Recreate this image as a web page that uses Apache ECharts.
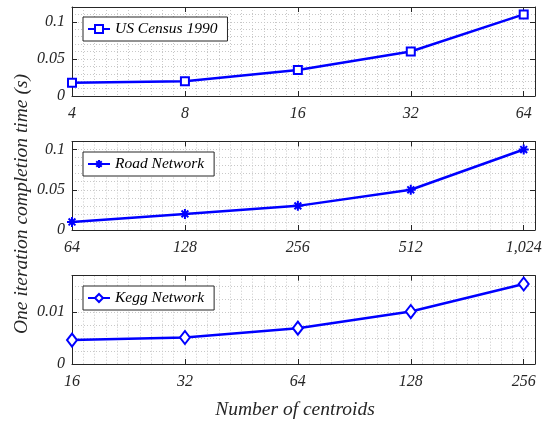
<!DOCTYPE html>
<html>
<head>
<meta charset="utf-8">
<script src="https://cdn.jsdelivr.net/npm/echarts@6/dist/echarts.min.js"></script>
<style>html,body{margin:0;padding:0;background:#fff}#c{width:549px;height:424px}</style>
</head>
<body>
<div id="c"></div>
<script>
const categories1 = ['4', '8', '16', '32', '64'];
const values1 = [0.018, 0.020, 0.035, 0.060, 0.110];
const categories2 = ['64', '128', '256', '512', '1,024'];
const values2 = [0.010, 0.020, 0.030, 0.050, 0.100];
const categories3 = ['16', '32', '64', '128', '256'];
const values3 = [0.0046, 0.0051, 0.0069, 0.0101, 0.0154];
const seriesNames = ['US Census 1990', 'Road Network', 'Kegg Network'];
const yMax = [0.12, 0.11, 0.017];
const yInterval = [0.05, 0.05, 0.01];
const yMinorSplit = [5, 5, 4];

const cats = [categories1, categories2, categories3];
const vals = [values1, values2, values3];
const BLUE = '#0000ff';
const AX = '#262626';
const GRIDC = '#c8c8c8';
const FONT = '"Liberation Serif", "DejaVu Serif", serif';
const grids = [
  {left: 72, right: 14, top: 7, height: 89},
  {left: 72, right: 14, top: 141.5, height: 88.5},
  {left: 72, right: 14, top: 275.7, height: 88.3}
];
const symbols = ['rect', 'path://M5,0L5,10M0,5L10,5M1.6,1.6L8.4,8.4M1.6,8.4L8.4,1.6', 'diamond'];
const symbolSizes = [[8, 8], [10, 10], [10, 13]];
const legendPos = [
  {left: 83, top: 17},
  {left: 83, top: 152},
  {left: 83, top: 286}
];

const xAxes = [], yAxes = [], series = [], legends = [];
for (let i = 0; i < 3; i++) {
  const c = cats[i];
  xAxes.push({
    type: 'value', gridIndex: i, min: 0, max: 4.1, interval: 1, position: 'bottom',
    axisLine: {show: true, onZero: false, lineStyle: {color: AX, width: 1}},
    axisTick: {show: true, inside: true, length: 5, lineStyle: {color: AX}},
    axisLabel: {show: true, margin: 10, showMaxLabel: false, color: AX, fontFamily: FONT, fontStyle: 'italic', fontSize: 16,
      formatter: v => (Math.abs(v - Math.round(v)) < 1e-6 && c[Math.round(v)] !== undefined) ? c[Math.round(v)] : ''},
    splitLine: {show: true, lineStyle: {color: GRIDC, type: [1, 2], width: 1}},
    minorTick: {show: false, splitNumber: 10},
    minorSplitLine: {show: true, lineStyle: {color: GRIDC, type: [1, 2], width: 1}}
  });
  xAxes.push({
    type: 'value', gridIndex: i, min: 0, max: 4.1, interval: 1, position: 'top',
    axisLine: {show: true, onZero: false, lineStyle: {color: AX, width: 1}},
    axisTick: {show: true, inside: true, length: 5, lineStyle: {color: AX}},
    axisLabel: {show: false}, splitLine: {show: false}
  });
  yAxes.push({
    type: 'value', gridIndex: i, min: 0, max: yMax[i], interval: yInterval[i], position: 'left',
    axisLine: {show: true, onZero: false, lineStyle: {color: AX, width: 1}},
    axisTick: {show: true, inside: true, length: 5, lineStyle: {color: AX}},
    axisLabel: {show: true, margin: 7, showMaxLabel: false, color: AX, fontFamily: FONT, fontStyle: 'italic', fontSize: 16},
    splitLine: {show: true, lineStyle: {color: GRIDC, type: [1, 2], width: 1}},
    minorTick: {show: false, splitNumber: yMinorSplit[i]},
    minorSplitLine: {show: true, lineStyle: {color: GRIDC, type: [1, 2], width: 1}}
  });
  yAxes.push({
    type: 'value', gridIndex: i, min: 0, max: yMax[i], interval: yInterval[i], position: 'right',
    axisLine: {show: true, onZero: false, lineStyle: {color: AX, width: 1}},
    axisTick: {show: true, inside: true, length: 5, lineStyle: {color: AX}},
    axisLabel: {show: false}, splitLine: {show: false}
  });
  series.push({
    name: seriesNames[i], type: 'line', xAxisIndex: 2 * i, yAxisIndex: 2 * i,
    data: vals[i].map((v, k) => [k, v]),
    symbol: symbols[i], symbolSize: symbolSizes[i], showAllSymbol: true,
    lineStyle: {color: BLUE, width: 2.5},
    itemStyle: {color: i === 1 ? BLUE : '#ffffff', borderColor: BLUE, borderWidth: 2},
    emphasis: {disabled: true}, animation: false, z: 5
  });
  legends.push({
    data: [seriesNames[i]], left: legendPos[i].left, top: legendPos[i].top,
    orient: 'horizontal', backgroundColor: '#fff', borderColor: '#262626', borderWidth: 1,
    padding: [4, 10, 4, 4], itemWidth: 22, itemHeight: 10, itemGap: 4,
    textStyle: {fontFamily: FONT, fontStyle: 'italic', fontSize: 15.5, color: '#000', lineHeight: 16},
    selectedMode: false
  });
}

const chart = echarts.init(document.getElementById('c'), null, {renderer: 'canvas'});
chart.setOption({
  animation: false,
  grid: grids,
  xAxis: xAxes,
  yAxis: yAxes,
  series: series,
  legend: legends,
  graphic: [
    {type: 'text', x: 22, y: 204, rotation: Math.PI / 2,
      style: {text: 'One iteration completion time (s)', fill: '#262626', font: 'italic 19.5px ' + FONT, align: 'center', verticalAlign: 'middle'}},
    {type: 'text', x: 295, y: 410,
      style: {text: 'Number of centroids', fill: '#262626', font: 'italic 19.5px ' + FONT, align: 'center', verticalAlign: 'middle'}}
  ]
});
</script>
</body>
</html>
